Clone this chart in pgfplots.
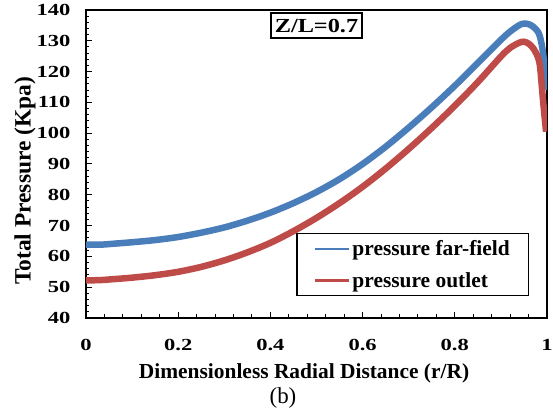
\documentclass[border=0pt]{standalone}
\usepackage{fontspec}
\setmainfont{Liberation Serif}
\newfontfamily\tickfam{Liberation Serif}[FakeStretch=1.33]
\newfontfamily\boxfam{Liberation Serif}[FakeStretch=1.22]
\usepackage{pgfplots}
\pgfplotsset{compat=1.18}
\definecolor{cblue}{RGB}{74,126,187}
\definecolor{cred}{RGB}{190,75,72}
\begin{document}
\begin{tikzpicture}
\begin{axis}[name=ax,
  scale only axis, width=461bp, height=308bp,
  xmin=0, xmax=1, ymin=40, ymax=140,
  xtick={0,0.2,0.4,0.6,0.8,1}, ytick={40,50,60,70,80,90,100,110,120,130,140},
  minor x tick num=4, minor y tick num=4,
  tick align=inside, tick pos=left,
  major tick length=6bp, minor tick length=3.5bp,
  every tick/.append style={line width=1bp, black},
  axis line style={line width=1.5bp, black},
  /pgf/number format/assume math mode=true,
  xticklabel style={font=\tickfam\bfseries\fontsize{17}{20}\selectfont, yshift=-18bp},
  yticklabel style={font=\tickfam\bfseries\fontsize{17}{20}\selectfont, xshift=-12bp},
  xlabel={Dimensionless Radial Distance (r/R)},
  ylabel={Total Pressure (Kpa)},
  xlabel style={at={(axis description cs:0.473,-0.1786)}, anchor=center, font=\bfseries\fontsize{21.5}{24}\selectfont},
  ylabel style={at={(axis description cs:-0.1323,0.445)}, anchor=center, font=\bfseries\fontsize{23.5}{26}\selectfont},
  legend style={at={(axis description cs:0.4556,0.276)}, anchor=north west, draw=black, line width=1.5bp,
    inner xsep=17bp, inner ysep=5bp, row sep=11bp, font=\bfseries\fontsize{21.5}{24}\selectfont,
    nodes={inner sep=2bp}},
  legend cell align=left,
  legend image code/.code={\draw[#1, line width=2.7bp, line cap=butt] (0bp,0bp) -- (34bp,0bp);},
]
\addplot[cblue, line width=6.5bp, line join=round, smooth, tension=0.5] coordinates {
(0,63.8) (0.03,63.8) (0.05,64.0) (0.1,64.6) (0.15,65.3) (0.2,66.3) (0.25,67.7)
(0.3,69.4) (0.35,71.6) (0.4,74.2) (0.45,77.3) (0.5,80.9) (0.55,85.1) (0.6,90.0)
(0.65,95.6) (0.7,101.8) (0.75,108.4) (0.8,115.4) (0.85,122.8) (0.9,130.3)
(0.92,133.0) (0.94,135.1) (0.95,135.6) (0.96,135.4) (0.97,134.6) (0.98,133.0)
(0.985,131.2) (0.99,127.5) (0.995,121.5) (1.0,114.0)
};
\addlegendentry{pressure far-field}
\addplot[cred, line width=6.5bp, line join=round, smooth, tension=0.5] coordinates {
(0,52.2) (0.03,52.3) (0.05,52.5) (0.1,53.1) (0.15,53.9) (0.2,55.0) (0.25,56.6)
(0.3,58.7) (0.35,61.3) (0.4,64.4) (0.45,68.2) (0.5,72.5) (0.55,77.3) (0.6,82.6)
(0.65,88.5) (0.7,94.9) (0.75,101.7) (0.8,108.9) (0.85,116.6) (0.9,124.9)
(0.92,127.7) (0.94,129.4) (0.95,129.7) (0.96,129.1) (0.97,127.6) (0.98,124.8)
(0.985,121.5) (0.99,113.0) (0.995,105.0) (0.998,100.5)
};
\addlegendentry{pressure outlet}
\node[draw=black, line width=1.8bp, inner sep=2bp, minimum width=91bp, minimum height=25bp,
  font=\boxfam\bfseries\fontsize{20}{22}\selectfont] at (axis description cs:0.5,0.9487) {Z/L=0.7};
\end{axis}
\node[font=\fontsize{23}{26}\selectfont] at ([shift={(197bp,-80bp)}]ax.south west) {(b)};
\pgfresetboundingbox
\path ([shift={(-86bp,-93bp)}]ax.south west) rectangle ([shift={(6bp,10bp)}]ax.north east);
\end{tikzpicture}
\end{document}
